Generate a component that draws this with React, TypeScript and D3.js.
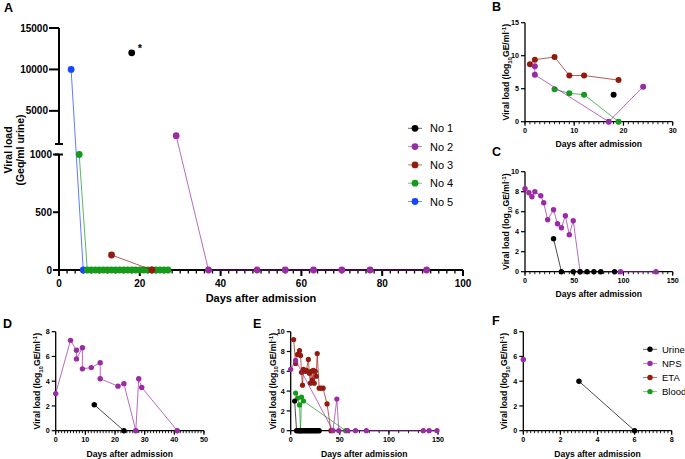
import React from "react";
import { scaleLinear, line, range } from "d3";

const FONT = "'Liberation Sans', Arial, Helvetica, sans-serif";

const BLACK = "#000000";
const PURPLE = "#9b2aa5";
const RED = "#921a0e";
const GREEN = "#159a1b";
const BLUE = "#1846ff";

type Pt = [number, number];

// Panel A: urine viral load (Geq/ml) per patient
const patients = ["No 1", "No 2", "No 3", "No 4", "No 5"];
const patientColors = [BLACK, PURPLE, RED, GREEN, BLUE];
const no1: Pt[] = [[18, 12000]];
const no2: Pt[] = [[29, 2000], [37, 0], [49, 0], [56, 0], [63, 0], [70, 0], [77, 0], [91, 0]];
const no3: Pt[] = [[13, 130], [23, 0]];
const no4: Pt[] = [
  [5, 1000], [7, 0], [8, 0], [9, 0], [10, 0], [11, 0], [12, 0], [13, 0], [14, 0], [15, 0],
  [16, 0], [17, 0], [18, 0], [19, 0], [20, 0], [21, 0], [22, 0], [23, 0], [24, 0], [25, 0],
  [26, 0], [27, 0],
];
const no5: Pt[] = [[3, 10000], [6, 0]];
const aXTicks = [0, 20, 40, 60, 80, 100];
const aYLowTicks = [0, 500, 1000];
const aYHighTicks = [5000, 10000, 15000];

// Panels B-F: log10 GE/ml per sample type
const sampleTypes = ["Urine", "NPS", "ETA", "Blood"];
const sampleColors = [BLACK, PURPLE, RED, GREEN];

const urineB: Pt[] = [[18, 4.1]];
const npsB: Pt[] = [[2, 8.4], [2, 7.1], [17, 0], [24, 5.3]];
const etaB: Pt[] = [[1, 8.7], [2, 9.4], [6, 9.8], [9, 7.0], [12, 7.0], [19, 6.3]];
const bloodB: Pt[] = [[6, 4.9], [9, 4.3], [12, 4.1], [19, 0]];

const urineC: Pt[] = [[29, 3.3], [37, 0], [49, 0], [56, 0], [63, 0], [70, 0], [77, 0], [91, 0]];
const npsC: Pt[] = [
  [0, 8.3], [4, 7.9], [7, 7.5], [10, 8.0], [16, 7.6], [19, 6.9], [23, 5.2], [29, 6.2],
  [33, 4.8], [37, 4.4], [41, 5.6], [45, 3.7], [49, 5.1], [56, 0], [97, 0], [133, 0],
];

const urineD: Pt[] = [[13, 2.1], [23, 0]];
const npsD: Pt[] = [
  [0, 3.0], [5, 7.3], [7, 6.5], [7, 5.8], [9, 6.7], [9, 5.0], [12, 5.1], [15, 5.5],
  [15, 4.2], [21, 3.6], [23, 3.8], [27, 0], [28, 4.2], [29, 3.5], [41, 0],
];

const urineE: Pt[] = [
  [4, 3.0], [6, 0], [7, 0], [8, 0], [9, 0], [10, 0], [11, 0], [12, 0], [13, 0], [14, 0],
  [15, 0], [16, 0], [17, 0], [18, 0], [19, 0], [20, 0], [21, 0], [22, 0], [23, 0], [24, 0],
  [25, 0], [26, 0], [27, 0], [28, 0], [29, 0],
];
const npsE: Pt[] = [
  [0, 6.2], [5, 7.1], [43, 0], [47, 3.2], [49, 0], [58, 0], [66, 0], [77, 0], [135, 0],
  [141, 0], [149, 0],
];
const etaE: Pt[] = [
  [3, 9.2], [5, 6.8], [7, 7.7], [9, 8.1], [10, 7.6], [11, 5.9], [12, 4.6], [13, 6.2],
  [15, 6.0], [16, 6.1], [18, 7.2], [19, 5.8], [20, 4.8], [21, 6.0], [22, 5.1], [23, 6.1],
  [24, 4.8], [25, 6.0], [26, 5.5], [27, 7.8], [29, 4.3], [31, 4.3], [33, 4.3], [37, 2.7],
  [41, 0],
];
const bloodE: Pt[] = [[5, 3.8], [7, 3.3], [9, 2.6], [10, 0], [11, 3.4], [13, 3.0], [56, 0]];

const urineF: Pt[] = [[3, 4.0], [6, 0]];
const npsF: Pt[] = [[0, 5.75]];

type Series = { color: string; data: Pt[] };

function Panel(props: {
  xr: [number, number];
  yr: [number, number];
  xDomain: [number, number];
  yDomain: [number, number];
  xTicks: number[];
  yTicks: number[];
  minorStep: number;
  series: Series[];
  r: number;
  label: string;
  labelPos: [number, number];
  ytX: number;
  xtY: number;
}) {
  const { xr, yr, xDomain, yDomain, xTicks, yTicks, minorStep, series, r } = props;
  const x = scaleLinear().domain(xDomain).range(xr);
  const y = scaleLinear().domain(yDomain).range(yr);
  const path = line<Pt>().x((d) => x(d[0])).y((d) => y(d[1]));
  const minor = range(xDomain[0], xDomain[1] + minorStep / 2, minorStep);
  const x0 = xr[0];
  const y0 = yr[0];
  const yMid = (yr[0] + yr[1]) / 2;
  return (
    <g fontFamily={FONT}>
      <text x={props.labelPos[0]} y={props.labelPos[1]} fontSize={12.5} fontWeight="bold">
        {props.label}
      </text>
      {/* axes */}
      <line x1={x0} x2={x0} y1={y0} y2={yr[1]} stroke="#000" strokeWidth={1.3} />
      <line x1={x0} x2={xr[1]} y1={y0} y2={y0} stroke="#000" strokeWidth={1.3} />
      {minor.map((v, i) => (
        <line key={"m" + i} x1={x(v)} x2={x(v)} y1={y0} y2={y0 + 2.5} stroke="#000" strokeWidth={0.9} />
      ))}
      {xTicks.map((v) => (
        <g key={"x" + v}>
          <line x1={x(v)} x2={x(v)} y1={y0} y2={y0 + 4} stroke="#000" strokeWidth={1.2} />
          <text x={x(v)} y={y0 + 11.5} fontSize={7.2} fontWeight="bold" textAnchor="middle">
            {v}
          </text>
        </g>
      ))}
      {yTicks.map((v) => (
        <g key={"y" + v}>
          <line x1={x0 - 4} x2={x0} y1={y(v)} y2={y(v)} stroke="#000" strokeWidth={1.2} />
          <text x={x0 - 6} y={y(v) + 2.6} fontSize={7.2} fontWeight="bold" textAnchor="end">
            {v}
          </text>
        </g>
      ))}
      <text
        x={(xr[0] + xr[1]) / 2}
        y={props.xtY}
        fontSize={8.6}
        fontWeight="bold"
        textAnchor="middle"
      >
        Days after admission
      </text>
      <text
        transform={`translate(${props.ytX},${yMid}) rotate(-90)`}
        fontSize={8.6}
        fontWeight="bold"
        textAnchor="middle"
      >
        Viral load (log
        <tspan fontSize={6} dy={2.5}>10</tspan>
        <tspan dy={-2.5}>GE/ml</tspan>
        <tspan fontSize={6} dy={-3}>-1</tspan>
        <tspan dy={3}>)</tspan>
      </text>
      {series.map((s, i) => (
        <g key={"s" + i}>
          {s.data.length > 1 && (
            <path d={path(s.data) || ""} fill="none" stroke={s.color} strokeOpacity={0.7} strokeWidth={1} />
          )}
          {s.data.map((d, j) => (
            <circle key={j} cx={x(d[0])} cy={y(d[1])} r={r} fill={s.color} />
          ))}
        </g>
      ))}
    </g>
  );
}

function PanelA() {
  const x = scaleLinear().domain([0, 100]).range([59, 463]);
  const yLow = scaleLinear().domain([0, 1000]).range([270, 154.5]);
  const yHigh = scaleLinear().domain([1000, 15000]).range([144, 28]);
  const y = (v: number) => (v <= 1000 ? yLow(v) : yHigh(v));
  const path = line<Pt>().x((d) => x(d[0])).y((d) => y(d[1]));
  const minor = range(0, 101, 2);
  const allData = [no1, no2, no3, no4, no5];
  const order = [4, 3, 2, 1, 0];
  const ax = 59;
  return (
    <g fontFamily={FONT}>
      <text x={4} y={11.5} fontSize={12.5} fontWeight="bold">A</text>
      {/* broken y axis */}
      <line x1={ax} x2={ax} y1={270} y2={154.5} stroke="#000" strokeWidth={2} />
      <line x1={ax} x2={ax} y1={144} y2={28} stroke="#000" strokeWidth={2} />
      <line x1={ax - 4} x2={ax + 4} y1={154.5} y2={154.5} stroke="#000" strokeWidth={2} />
      <line x1={ax - 4} x2={ax + 4} y1={144} y2={144} stroke="#000" strokeWidth={2} />
      {aYLowTicks.map((v) => (
        <g key={"yl" + v}>
          <line x1={ax - 6} x2={ax} y1={yLow(v)} y2={yLow(v)} stroke="#000" strokeWidth={2} />
          <text x={ax - 7} y={yLow(v) + 3.6} fontSize={10} fontWeight="bold" textAnchor="end">
            {v}
          </text>
        </g>
      ))}
      {aYHighTicks.map((v) => (
        <g key={"yh" + v}>
          <line x1={ax - 10} x2={ax} y1={yHigh(v)} y2={yHigh(v)} stroke="#000" strokeWidth={2} />
          <text x={ax - 11} y={yHigh(v) + 3.6} fontSize={10} fontWeight="bold" textAnchor="end">
            {v}
          </text>
        </g>
      ))}
      {/* x axis */}
      <line x1={ax} x2={x(100)} y1={270} y2={270} stroke="#000" strokeWidth={2} />
      {minor.map((v) => (
        <line key={"m" + v} x1={x(v)} x2={x(v)} y1={270} y2={273.5} stroke="#000" strokeWidth={1.3} />
      ))}
      {aXTicks.map((v) => (
        <g key={"x" + v}>
          <line x1={x(v)} x2={x(v)} y1={270} y2={276} stroke="#000" strokeWidth={2} />
          <text x={x(v)} y={287} fontSize={10} fontWeight="bold" textAnchor="middle">
            {v}
          </text>
        </g>
      ))}
      <text x={261} y={302} fontSize={11} fontWeight="bold" textAnchor="middle">
        Days after admission
      </text>
      <text transform="translate(12,150) rotate(-90)" fontSize={10.5} fontWeight="bold" textAnchor="middle">
        Viral load
      </text>
      <text transform="translate(24,150) rotate(-90)" fontSize={10.5} fontWeight="bold" textAnchor="middle">
        (Geq/ml urine)
      </text>
      {order.map((i) => (
        <g key={"p" + i}>
          {allData[i].length > 1 && (
            <path d={path(allData[i]) || ""} fill="none" stroke={patientColors[i]} strokeOpacity={0.7} strokeWidth={1} />
          )}
          {allData[i].map((d, j) => (
            <circle key={j} cx={x(d[0])} cy={y(d[1])} r={3.4} fill={patientColors[i]} />
          ))}
        </g>
      ))}
      <text x={x(18) + 6} y={y(12000) - 1} fontSize={11} fontWeight="bold">*</text>
      {/* legend */}
      {patients.map((p, i) => (
        <g key={p} transform={`translate(415,${128.3 + i * 18.3})`}>
          <line x1={-7} x2={7} y1={0} y2={0} stroke={patientColors[i]} strokeOpacity={0.6} strokeWidth={1} />
          <circle r={3.4} fill={patientColors[i]} />
          <text x={15} y={4} fontSize={11}>{p}</text>
        </g>
      ))}
    </g>
  );
}

export default function App() {
  return (
    <div style={{ position: "absolute", left: 0, top: 0, background: "#fff" }}>
      <svg width={685} height={459} style={{ display: "block" }}>
        <rect width={685} height={459} fill="#fff" />
        <PanelA />
        <Panel
          xr={[525, 672.7]} yr={[121.7, 22.7]} xDomain={[0, 30]} yDomain={[0, 15]}
          xTicks={[0, 10, 20, 30]} yTicks={[0, 5, 10, 15]} minorStep={1} r={3}
          series={[
            { color: RED, data: etaB },
            { color: GREEN, data: bloodB },
            { color: PURPLE, data: npsB },
            { color: BLACK, data: urineB },
          ]}
          label="B" labelPos={[492, 11]} ytX={509} xtY={147}
        />
        <Panel
          xr={[525, 672.7]} yr={[271.7, 171.7]} xDomain={[0, 150]} yDomain={[0, 10]}
          xTicks={[0, 50, 100, 150]} yTicks={[0, 2, 4, 6, 8, 10]} minorStep={5} r={2.7}
          series={[
            { color: PURPLE, data: npsC },
            { color: BLACK, data: urineC },
          ]}
          label="C" labelPos={[492, 156]} ytX={509} xtY={297}
        />
        <Panel
          xr={[55.7, 204]} yr={[430.7, 331.7]} xDomain={[0, 50]} yDomain={[0, 8]}
          xTicks={[0, 10, 20, 30, 40, 50]} yTicks={[0, 2, 4, 6, 8]} minorStep={1} r={2.7}
          series={[
            { color: PURPLE, data: npsD },
            { color: BLACK, data: urineD },
          ]}
          label="D" labelPos={[3, 328]} ytX={40} xtY={457}
        />
        <Panel
          xr={[290.7, 438]} yr={[430.7, 331.7]} xDomain={[0, 150]} yDomain={[0, 10]}
          xTicks={[0, 50, 100, 150]} yTicks={[0, 2, 4, 6, 8, 10]} minorStep={10} r={2.6}
          series={[
            { color: RED, data: etaE },
            { color: GREEN, data: bloodE },
            { color: PURPLE, data: npsE },
            { color: BLACK, data: urineE },
          ]}
          label="E" labelPos={[253, 328]} ytX={275.5} xtY={457}
        />
        <Panel
          xr={[523.3, 671.7]} yr={[430.7, 331.7]} xDomain={[0, 8]} yDomain={[0, 8]}
          xTicks={[0, 2, 4, 6, 8]} yTicks={[0, 2, 4, 6, 8]} minorStep={0.2} r={2.7}
          series={[
            { color: PURPLE, data: npsF },
            { color: BLACK, data: urineF },
          ]}
          label="F" labelPos={[492, 325]} ytX={507} xtY={457}
        />
        {/* legend F */}
        <g fontFamily={FONT}>
          {sampleTypes.map((s, i) => (
            <g key={s} transform={`translate(650,${349.3 + i * 14.1})`}>
              <line x1={-7} x2={7} y1={0} y2={0} stroke={sampleColors[i]} strokeOpacity={0.6} strokeWidth={1} />
              <circle r={2.7} fill={sampleColors[i]} />
              <text x={12} y={3.4} fontSize={9.5}>{s}</text>
            </g>
          ))}
        </g>
      </svg>
    </div>
  );
}
